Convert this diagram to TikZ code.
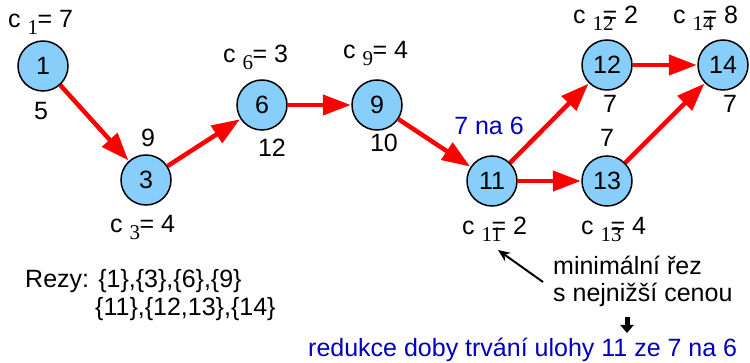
\documentclass[tikz,border=0pt]{standalone}
\usepackage{fontspec}
\setmainfont{Liberation Sans}
\newfontfamily\serifdig{Liberation Serif}
\usetikzlibrary{arrows.meta}
\definecolor{nodeblue}{RGB}{135,206,250}
\definecolor{txtblue}{RGB}{0,0,190}
\newcommand{\cval}[2]{c\hspace{7pt}\makebox[10pt][l]{\raisebox{-7pt}{\fontsize{21}{21}\serifdig #1}}= #2}
\begin{document}
\begin{tikzpicture}[x=1pt,y=-1pt,
  every node/.style={font=\fontsize{25}{27}\selectfont, inner sep=0pt},
  task/.style={circle, draw=black, line width=1.5pt, fill=nodeblue, minimum size=50pt},
  lab/.style={anchor=base},
  clab/.style={anchor=base west},
  edge/.style={draw=red, line width=4.5pt, -{Triangle[length=28pt,width=20pt]}, shorten >=0.5pt},
  bluetxt/.style={text=txtblue}]
\useasboundingbox (0,0) rectangle (750,363);
\node[task] (n1) at (43,66) {1};
\node[task] (n3) at (146,180) {3};
\node[task] (n6) at (262,105) {6};
\node[task] (n9) at (377,105) {9};
\node[task] (n11) at (492,181) {11};
\node[task] (n13) at (607,181) {13};
\node[task] (n12) at (607,65) {12};
\node[task] (n14) at (723,65) {14};
\draw[edge] (n1) -- (n3);
\draw[edge] (n3) -- (n6);
\draw[edge] (n6) -- (n9);
\draw[edge] (n9) -- (n11);
\draw[edge] (n11) -- (n12);
\draw[edge] (n11) -- (n13);
\draw[edge] (n12) -- (n14);
\draw[edge] (n13) -- (n14);
\node[clab] (c1) at (8,28) {\cval{1}{7}};
\node[clab] (c6) at (223,63) {\cval{6}{3}};
\node[clab] (c9) at (343,59) {\cval{9}{4}};
\node[clab] (c12) at (573,24) {\cval{12}{2}};
\node[clab] (c14) at (673,24) {\cval{14}{8}};
\node[clab] (c3) at (110,233) {\cval{3}{4}};
\node[clab] (c11) at (462,235) {\cval{11}{2}};
\node[clab] (c13) at (581,235) {\cval{13}{4}};
\node[lab] (d1) at (41,120) {5};
\node[lab] (d3) at (148,147) {9};
\node[lab] (d6) at (272,157) {12};
\node[lab] (d9) at (384,152) {10};
\node[lab, bluetxt] (d11) at (489,135) {7 na 6};
\node[lab] (d13) at (607,147) {7};
\node[lab] (d12) at (610,113) {7};
\node[lab] (d14) at (730,113) {7};
\node[anchor=base west] (rez1) at (25,288) {Rezy: \{1\},\{3\},\{6\},\{9\}};
\node[anchor=base west] (rez2) at (95,316) {\{11\},\{12,13\},\{14\}};
\node[anchor=base west] (min1) at (553,275) {minimální řez};
\node[anchor=base west] (min2) at (553,302) {s nejnižší cenou};
\coordinate (pfrom) at (543,282);
\coordinate (pto) at (498,250);
\draw[line width=2pt, -{Stealth[length=12pt,width=10pt]}] (pfrom) -- (pto);
\coordinate (dfrom) at (627,317);
\coordinate (dto) at (627,333);
\draw[line width=5pt, -{Triangle[length=8pt,width=13pt]}] (dfrom) -- (dto);
\node[anchor=base west, bluetxt] (red) at (308,356) {redukce doby trvání ulohy 11 ze 7 na 6};
\end{tikzpicture}
\end{document}
